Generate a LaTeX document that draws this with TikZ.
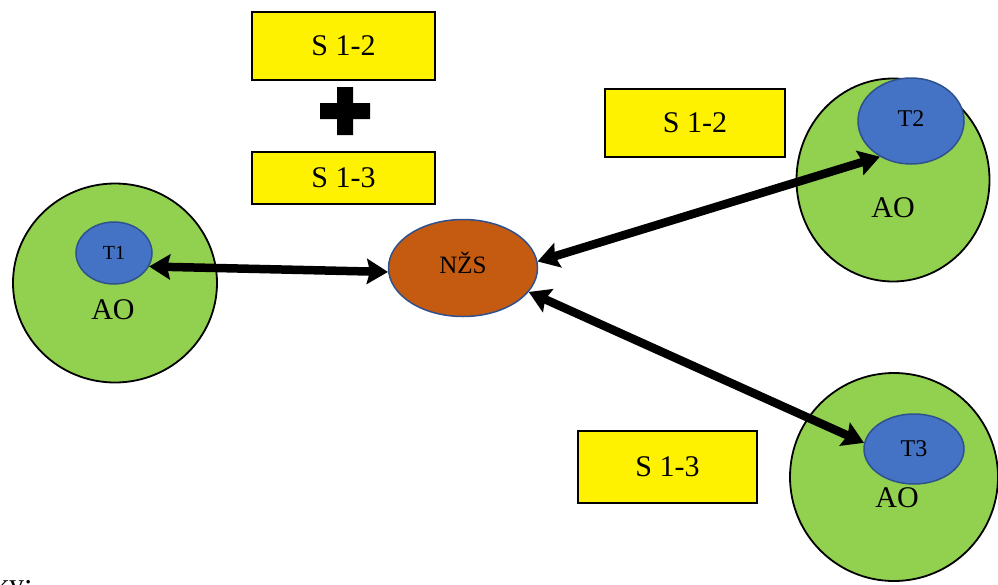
\documentclass[tikz,border=0pt]{standalone}
\usepackage{fontspec}
\setmainfont{Liberation Serif}
\usetikzlibrary{shapes.geometric,arrows.meta}
\definecolor{aogreen}{HTML}{92D050}
\definecolor{tblue}{HTML}{4472C4}
\definecolor{tborder}{HTML}{2F528F}
\definecolor{nzsorange}{HTML}{C55A11}
\tikzset{
  ao/.style={ellipse,draw=black,line width=1.8pt,fill=aogreen,inner sep=0pt},
  tnode/.style={ellipse,draw=tborder,line width=1.5pt,fill=tblue,inner sep=0pt},
  nzs/.style={ellipse,draw=tborder,line width=1.5pt,fill=nzsorange,inner sep=0pt,font=\fontsize{25}{28}\selectfont},
  sbox/.style={rectangle,draw=black,line width=2.2pt,fill=yellow,inner sep=0pt,font=\fontsize{30}{34}\selectfont},
  aolabel/.style={font=\fontsize{30}{34}\selectfont,inner sep=0pt},
  link/.style={line width=8.5pt,{Stealth[length=21pt,width=25pt,inset=3pt]}-{Stealth[length=21pt,width=25pt,inset=3pt]}},
}
\begin{document}
\begin{tikzpicture}[x=1pt,y=-1pt]
\useasboundingbox (0,0) rectangle (998,584);
\clip (0,0) rectangle (998,584);
% boxes
\node[sbox,minimum width=183pt,minimum height=68pt] (b1) at (343.5,46) {S 1-2};
\node[sbox,minimum width=183pt,minimum height=52pt] (b2) at (343.5,178) {S 1-3};
\node[sbox,minimum width=180pt,minimum height=68pt] (b3) at (695,123) {S 1-2};
\node[sbox,minimum width=179pt,minimum height=72pt] (b4) at (667.5,467) {S 1-3};
% plus
\fill[black] (337,87) -- (353,87) -- (353,103) -- (370,103) -- (370,119) -- (353,119) -- (353,135) -- (337,135) -- (337,119) -- (320,119) -- (320,103) -- (337,103) -- cycle;
% AO circles
\node[ao,minimum width=204pt,minimum height=199pt] (ao1) at (115,283) {};
\node[ao,minimum width=193pt,minimum height=203pt] (ao2) at (893,180) {};
\node[ao,minimum width=208pt,minimum height=208pt] (ao3) at (894,477) {};
\node[aolabel] (l1) at (113,310) {AO};
\node[aolabel] (l2) at (893,208) {AO};
\node[aolabel] (l3) at (897,498) {AO};
% T ellipses
\node[tnode,minimum width=76pt,minimum height=62pt,font=\fontsize{20}{24}\selectfont] (t1) at (114,253) {T1};
\node[tnode,minimum width=106pt,minimum height=86pt,font=\fontsize{24}{28}\selectfont] (t2) at (911,121) {\raisebox{5pt}{T2}};
\node[tnode,minimum width=100pt,minimum height=70pt,font=\fontsize{24}{28}\selectfont] (t3) at (914,449) {T3};
% centre
\node[nzs,minimum width=149pt,minimum height=97pt] (n) at (463,268) {\raisebox{10pt}{NŽS}};
% links
\draw[link] (t1.-21) -- (n.183);
\draw[link] (n.5) -- (t2.229);
\draw[link] (n.-20) -- (t3.173);
% cut-off text, as in the reference
\node[anchor=base west,inner sep=0pt,font=\fontsize{30}{34}\selectfont] (ky) at (-6,594) {ky:};
\end{tikzpicture}
\end{document}
